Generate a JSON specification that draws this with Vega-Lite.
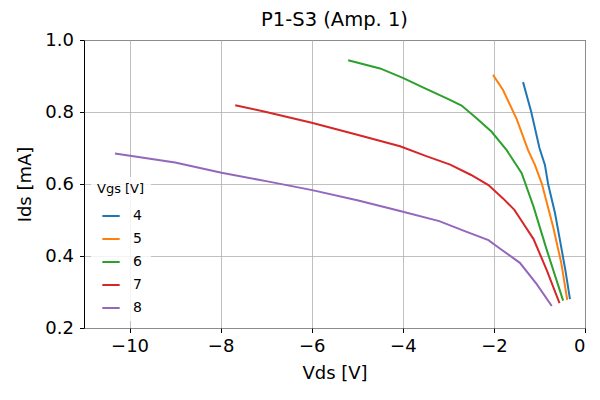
{
  "$schema": "https://vega.github.io/schema/vega-lite/v6.json",
  "width": 501,
  "height": 288,
  "autosize": {"type": "none"},
  "padding": {"left": 84, "top": 40, "right": 15, "bottom": 72},
  "title": {
    "text": "P1-S3 (Amp. 1)",
    "fontSize": 19.5,
    "fontWeight": "normal",
    "font": "DejaVu Sans",
    "color": "black",
    "frame": "group",
    "offset": 1
  },
  "data": {
    "values": [
      {"vgs": "4", "vds": -1.36, "ids": 0.883},
      {"vgs": "4", "vds": -1.18, "ids": 0.8},
      {"vgs": "4", "vds": -1.0, "ids": 0.7},
      {"vgs": "4", "vds": -0.88, "ids": 0.653},
      {"vgs": "4", "vds": -0.81, "ids": 0.6},
      {"vgs": "4", "vds": -0.66, "ids": 0.52},
      {"vgs": "4", "vds": -0.55, "ids": 0.444},
      {"vgs": "4", "vds": -0.43, "ids": 0.36},
      {"vgs": "4", "vds": -0.33, "ids": 0.28},

      {"vgs": "5", "vds": -2.02, "ids": 0.903},
      {"vgs": "5", "vds": -1.8, "ids": 0.861},
      {"vgs": "5", "vds": -1.5, "ids": 0.78},
      {"vgs": "5", "vds": -1.25, "ids": 0.694},
      {"vgs": "5", "vds": -1.1, "ids": 0.653},
      {"vgs": "5", "vds": -0.95, "ids": 0.602},
      {"vgs": "5", "vds": -0.7, "ids": 0.481},
      {"vgs": "5", "vds": -0.52, "ids": 0.38},
      {"vgs": "5", "vds": -0.39, "ids": 0.278},

      {"vgs": "6", "vds": -5.2, "ids": 0.944},
      {"vgs": "6", "vds": -4.5, "ids": 0.921},
      {"vgs": "6", "vds": -4.0, "ids": 0.895},
      {"vgs": "6", "vds": -3.5, "ids": 0.865},
      {"vgs": "6", "vds": -3.0, "ids": 0.836},
      {"vgs": "6", "vds": -2.71, "ids": 0.818},
      {"vgs": "6", "vds": -2.4, "ids": 0.785},
      {"vgs": "6", "vds": -2.05, "ids": 0.745},
      {"vgs": "6", "vds": -1.72, "ids": 0.694},
      {"vgs": "6", "vds": -1.39, "ids": 0.63},
      {"vgs": "6", "vds": -1.13, "ids": 0.537},
      {"vgs": "6", "vds": -0.84, "ids": 0.417},
      {"vgs": "6", "vds": -0.48, "ids": 0.276},

      {"vgs": "7", "vds": -7.68, "ids": 0.819},
      {"vgs": "7", "vds": -7.0, "ids": 0.8},
      {"vgs": "7", "vds": -6.0, "ids": 0.77},
      {"vgs": "7", "vds": -5.0, "ids": 0.737},
      {"vgs": "7", "vds": -4.06, "ids": 0.705},
      {"vgs": "7", "vds": -3.5, "ids": 0.678},
      {"vgs": "7", "vds": -2.96, "ids": 0.654},
      {"vgs": "7", "vds": -2.5, "ids": 0.625},
      {"vgs": "7", "vds": -2.12, "ids": 0.597},
      {"vgs": "7", "vds": -1.8, "ids": 0.56},
      {"vgs": "7", "vds": -1.55, "ids": 0.528},
      {"vgs": "7", "vds": -1.43, "ids": 0.505},
      {"vgs": "7", "vds": -1.13, "ids": 0.447},
      {"vgs": "7", "vds": -0.84, "ids": 0.361},
      {"vgs": "7", "vds": -0.56, "ids": 0.269},

      {"vgs": "8", "vds": -10.32, "ids": 0.685},
      {"vgs": "8", "vds": -9.0, "ids": 0.66},
      {"vgs": "8", "vds": -7.98, "ids": 0.631},
      {"vgs": "8", "vds": -7.0, "ids": 0.608},
      {"vgs": "8", "vds": -5.99, "ids": 0.583},
      {"vgs": "8", "vds": -5.0, "ids": 0.555},
      {"vgs": "8", "vds": -4.06, "ids": 0.525},
      {"vgs": "8", "vds": -3.2, "ids": 0.497},
      {"vgs": "8", "vds": -2.64, "ids": 0.469},
      {"vgs": "8", "vds": -2.12, "ids": 0.444},
      {"vgs": "8", "vds": -1.87, "ids": 0.421},
      {"vgs": "8", "vds": -1.43, "ids": 0.381},
      {"vgs": "8", "vds": -1.06, "ids": 0.322},
      {"vgs": "8", "vds": -0.73, "ids": 0.261}
    ]
  },
  "mark": {"type": "line", "strokeWidth": 2},
  "encoding": {
    "x": {
      "field": "vds",
      "type": "quantitative",
      "scale": {"domain": [-11, 0], "nice": false, "zero": false},
      "axis": {
        "title": "Vds [V]",
        "values": [-10, -8, -6, -4, -2, 0],
        "format": "d",
        "labelPadding": 5,
        "titlePadding": 9
      }
    },
    "y": {
      "field": "ids",
      "type": "quantitative",
      "scale": {"domain": [0.2, 1.0], "nice": false, "zero": false},
      "axis": {
        "title": "Ids [mA]",
        "values": [0.2, 0.4, 0.6, 0.8, 1.0],
        "format": ".1f",
        "labelPadding": 6,
        "titlePadding": 10
      }
    },
    "color": {
      "field": "vgs",
      "type": "nominal",
      "scale": {
        "domain": ["4", "5", "6", "7", "8"],
        "range": ["#1f77b4", "#ff7f0e", "#2ca02c", "#d62728", "#9467bd"]
      },
      "legend": {
        "title": "Vgs [V]",
        "orient": "bottom-left",
        "offset": 7,
        "padding": 6,
        "fillColor": "rgba(255,255,255,0.8)",
        "symbolType": "stroke",
        "symbolSize": 300,
        "symbolStrokeWidth": 2,
        "symbolOffset": 4,
        "labelOffset": 12,
        "labelFontSize": 14,
        "titleFontSize": 13,
        "titleFontWeight": "normal",
        "titlePadding": 10,
        "rowPadding": 6
      }
    }
  },
  "config": {
    "font": "DejaVu Sans",
    "view": {"stroke": "black", "strokeWidth": 1},
    "axis": {
      "domain": false,
      "grid": true,
      "gridColor": "#b0b0b0",
      "gridWidth": 0.8,
      "tickColor": "black",
      "tickSize": 4.5,
      "labelFontSize": 18,
      "labelColor": "black",
      "titleFontSize": 18,
      "titleFontWeight": "normal",
      "titleColor": "black"
    },
    "legend": {"labelColor": "black", "titleColor": "black"}
  }
}
